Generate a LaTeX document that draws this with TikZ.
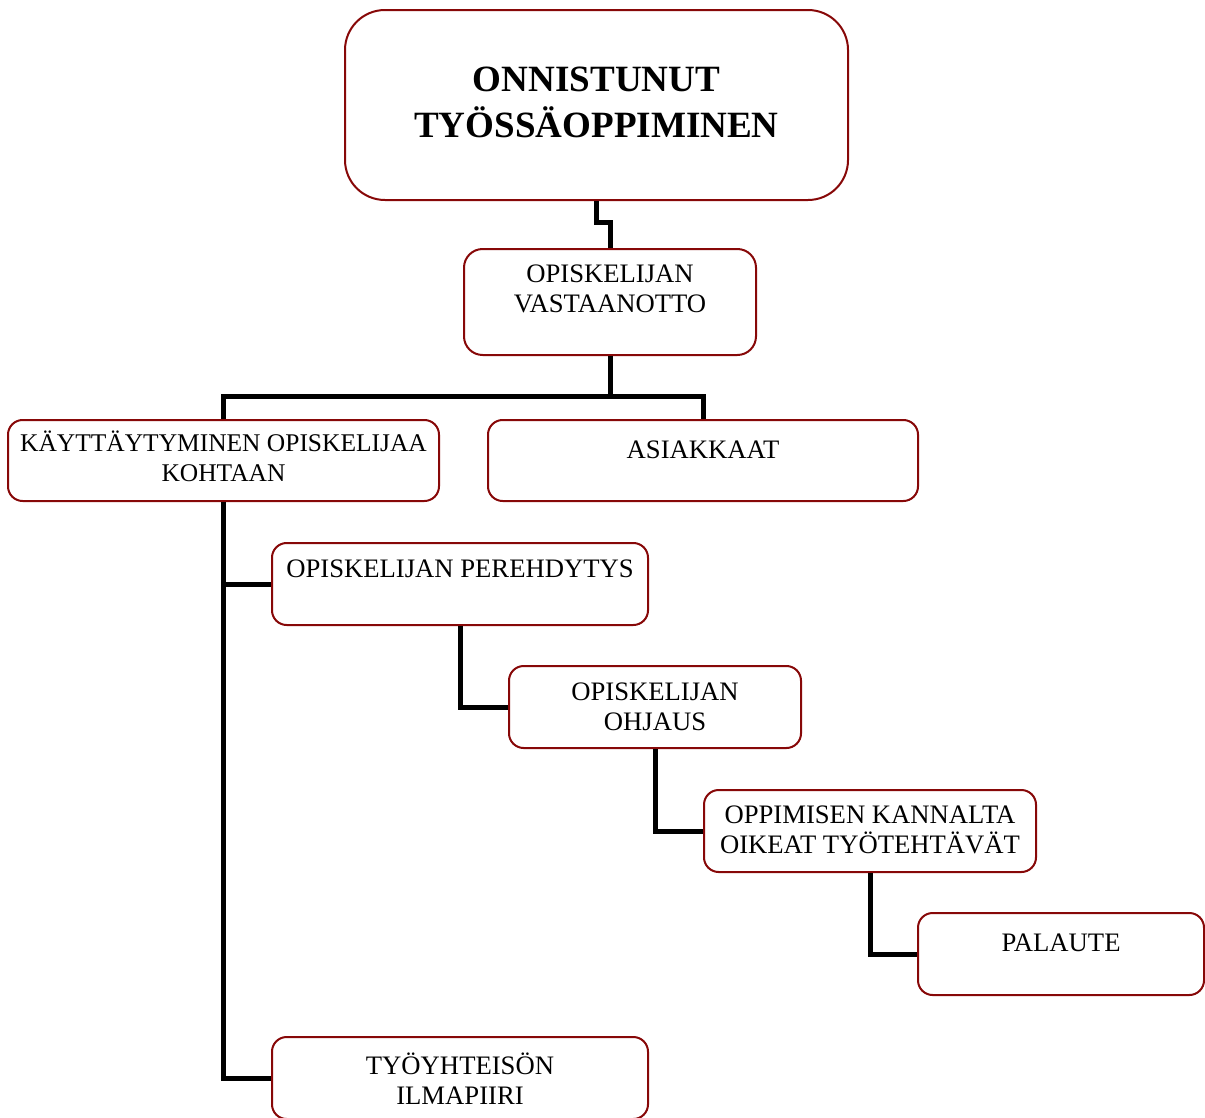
\documentclass[tikz,border=0pt]{standalone}
\usepackage{fontspec}
\setmainfont{Liberation Serif}
\usetikzlibrary{calc}
\definecolor{bord}{RGB}{135,8,8}
\tikzset{
  box/.style={draw=bord, line width=1.5pt, fill=white, inner sep=0pt, rounded corners=11pt},
  txt/.style={anchor=base, align=center, inner sep=0pt, font=\fontsize{20}{22.5}\selectfont},
  ttl/.style={anchor=base, align=center, inner sep=0pt, font=\bfseries\fontsize{27.8}{34}\selectfont},
  conn/.style={draw=black, line width=3.75pt}
}
\newcommand\mybox[6]{%
  \node[box, minimum width={(#4-#2)*0.75pt}, minimum height={(#5-#3)*0.75pt}, #6] (#1) at ({(#2+#4)/2},{(#3+#5)/2}) {};}
\begin{document}
\begin{tikzpicture}[x=0.75pt, y=-0.75pt]
\useasboundingbox (0,0) rectangle (1205,1117);
\clip (0,0) rectangle (1205,1117);
% boxes
\mybox{top}{345}{10}{848}{200}{rounded corners=30pt}
\mybox{vas}{464}{249}{756}{355}{rounded corners=14pt}
\mybox{kay}{8}{420}{439}{501}{}
\mybox{asi}{488}{420}{918}{501}{}
\mybox{per}{272}{543}{648}{625}{}
\mybox{ohj}{509}{666}{801}{748}{}
\mybox{opp}{704}{790}{1036}{872}{}
\mybox{pal}{918}{913}{1204}{995}{}
\mybox{ilm}{272}{1037}{648}{1119}{}
% texts (base = baseline of last line)
\node[ttl] (ttop) at ($(top.north)+(0,128)$) {ONNISTUNUT\\TYÖSSÄOPPIMINEN};
\node[txt] (tvas) at ($(vas.north)+(0,64)$) {OPISKELIJAN\\VASTAANOTTO};
\node[txt, font=\fontsize{19.1}{22.5}\selectfont] (tkay) at ($(kay.north)+(0,62)$) {KÄYTTÄYTYMINEN OPISKELIJAA\\KOHTAAN};
\node[txt] (tasi) at ($(asi.north)+(0,39)$) {ASIAKKAAT};
\node[txt] (tper) at ($(per.north)+(0,35)$) {OPISKELIJAN PEREHDYTYS};
\node[txt] (tohj) at ($(ohj.north)+(0,65)$) {OPISKELIJAN\\OHJAUS};
\node[txt] (topp) at ($(opp.north)+(0,64)$) {OPPIMISEN KANNALTA\\OIKEAT TYÖTEHTÄVÄT};
\node[txt] (tpal) at ($(pal.north)+(0,39)$) {PALAUTE};
\node[txt] (tilm) at ($(ilm.north)+(0,68)$) {TYÖYHTEISÖN\\ILMAPIIRI};
% connectors
\coordinate (j1) at (0,222);
\coordinate (j2) at (610,396);
\draw[conn] (top.south) -- (top.south |- j1) -| (vas.north);
\draw[conn] (vas.south) -- (j2);
\draw[conn] (kay.north) |- (j2) -| (asi.north);
\draw[conn] (kay.south) |- (per.west);
\draw[conn] (kay.south) |- (ilm.west);
\draw[conn] (per.south) |- (ohj.west);
\draw[conn] (ohj.south) |- (opp.west);
\draw[conn] (opp.south) |- (pal.west);
\end{tikzpicture}
\end{document}
